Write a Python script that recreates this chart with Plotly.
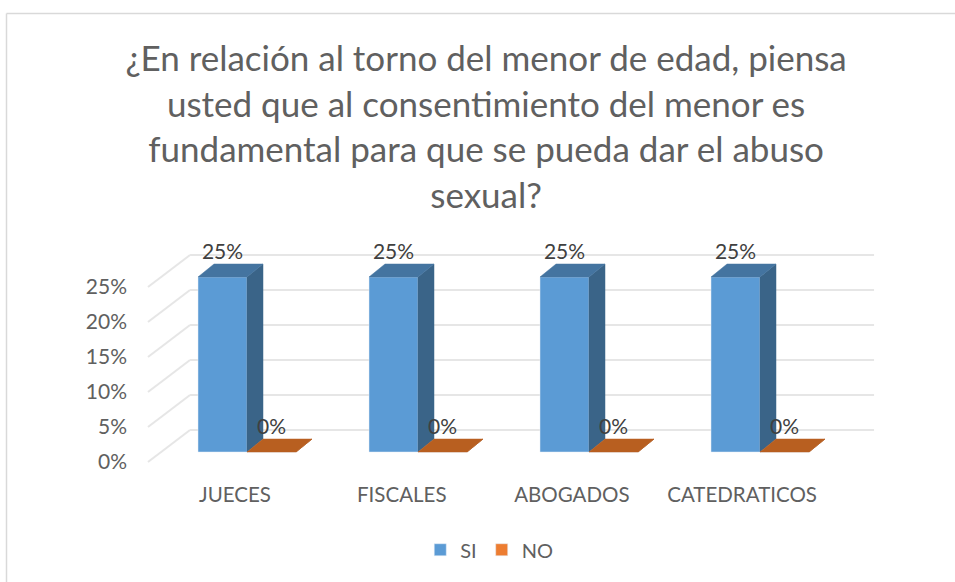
import plotly.graph_objects as go

# datos
categorias = ["JUECES", "FISCALES", "ABOGADOS", "CATEDRATICOS"]
si = [25, 25, 25, 25]
no = [0, 0, 0, 0]
ticks_y = [0, 5, 10, 15, 20, 25]
pos_etiquetas = [-0.07, 0.905, 1.90, 2.895]

titulo = ("¿En relación al torno del menor de edad, piensa<br>"
          "usted que al consentimiento del menor es<br>"
          "fundamental para que se pueda dar el abuso<br>"
          "sexual?")

FUENTE = "Lato"
GRIS = "#606060"
ANCHO_BARRA = 49 / 171
PROF_X, PROF_Y = 16 / 171, 13 / 7      # profundidad de las barras
PISO_Y = -10 / 7                        # plano frontal de la rejilla
REJ_X0, REJ_X1, REJ_X2 = -0.579, -0.333, 3.667
REJ_DY = 32 / 7

fig = go.Figure()

fig.add_trace(go.Bar(x=list(range(4)), y=si, name="SI", marker_color="#5B9BD5", hoverinfo="skip"))
fig.add_trace(go.Bar(x=list(range(4)), y=no, name="NO", marker_color="#ED7D31", hoverinfo="skip"))


def caras(valores, desplaz):
    """Poligonos de la cara superior y lateral de cada barra."""
    sx, sy, tx, ty = [], [], [], []
    for i, v in enumerate(valores):
        izq = i + desplaz
        der = izq + ANCHO_BARRA
        tx += [izq, der, der + PROF_X, izq + PROF_X, izq, None]
        ty += [v, v, v + PROF_Y, v + PROF_Y, v, None]
        sx += [der, der, der + PROF_X, der + PROF_X, der, None]
        sy += [0, v, v + PROF_Y, PROF_Y, 0, None]
    return sx, sy, tx, ty


for valores, desplaz, c_lado, c_sup in [
    (si, -ANCHO_BARRA, "#3A6488", "#4474A0"),
    (no, 0, "#A5561F", "#B85F20"),
]:
    sx, sy, tx, ty = caras(valores, desplaz)
    for xs, ys, col in [(sx, sy, c_lado), (tx, ty, c_sup)]:
        fig.add_trace(go.Scatter(x=xs, y=ys, mode="lines", fill="toself", fillcolor=col,
                                 line=dict(color=col, width=0.5), showlegend=False, hoverinfo="skip"))

# etiquetas de datos
for valores, desplaz in [(si, -ANCHO_BARRA / 2), (no, ANCHO_BARRA / 2)]:
    fig.add_trace(go.Scatter(
        x=[i + desplaz for i in range(4)],
        y=[v + 3.3 for v in valores],
        mode="text",
        text=[f"{v}%" for v in valores],
        textfont=dict(family=FUENTE, size=21, color="#404040"),
        showlegend=False,
        hoverinfo="skip",
    ))

# rejilla en perspectiva
formas = []
for t in ticks_y:
    y0 = t + PISO_Y
    y1 = y0 + REJ_DY
    formas.append(dict(type="line", layer="below", xref="x", yref="y", x0=REJ_X0, y0=y0, x1=REJ_X1, y1=y1,
                       line=dict(color="#E6E6E6", width=2)))
    formas.append(dict(type="line", layer="below", xref="x", yref="y", x0=REJ_X1, y0=y1, x1=REJ_X2, y1=y1,
                       line=dict(color="#E6E6E6", width=2)))

# marco del grafico
izq_p, der_p, sup_p, inf_p = 130, 880, 240, 475
mx = lambda px: (px - izq_p) / (der_p - izq_p)
my = lambda py: (inf_p - py) / (inf_p - sup_p)
formas.append(dict(type="line", xref="paper", yref="paper", x0=mx(6.5), y0=my(13.5), x1=mx(955), y1=my(13.5),
                   line=dict(color="#D9D9D9", width=1.5)))
formas.append(dict(type="line", xref="paper", yref="paper", x0=mx(6.5), y0=my(13.5), x1=mx(6.5), y1=my(582),
                   line=dict(color="#D9D9D9", width=1.5)))

fig.update_layout(
    width=955,
    height=582,
    margin=dict(l=izq_p, r=955 - der_p, t=sup_p, b=582 - inf_p, autoexpand=False),
    paper_bgcolor="white",
    plot_bgcolor="white",
    barmode="group",
    bargap=1 - 2 * ANCHO_BARRA,
    bargroupgap=0,
    shapes=formas,
    title=dict(text=titulo, x=0.509, xanchor="center", y=0.878, yanchor="middle",
               font=dict(family=FUENTE, size=35, color=GRIS)),
    showlegend=True,
    legend=dict(orientation="h", x=0.387, xanchor="left", y=-0.318, yanchor="middle",
                font=dict(family=FUENTE, size=20, color=GRIS)),
    xaxis=dict(
        range=[(izq_p - 247) / 171, (der_p - 247) / 171],
        tickmode="array",
        tickvals=pos_etiquetas,
        ticktext=categorias,
        ticks="",
        showgrid=False,
        zeroline=False,
        showline=False,
        ticklabelstandoff=5,
        tickfont=dict(family=FUENTE, size=20.5, color=GRIS),
    ),
    yaxis=dict(
        range=[(452 - inf_p) / 7, (452 - sup_p) / 7],
        tickmode="array",
        tickvals=[t + PISO_Y for t in ticks_y],
        ticktext=[f"{t}%" for t in ticks_y],
        ticks="",
        showgrid=False,
        zeroline=False,
        showline=False,
        ticklabelstandoff=2,
        tickfont=dict(family=FUENTE, size=21, color=GRIS),
    ),
)

# sin el margen por defecto del body
fig.write_html("out.html", config={"displayModeBar": False}, post_script="document.body.style.margin='0';")
